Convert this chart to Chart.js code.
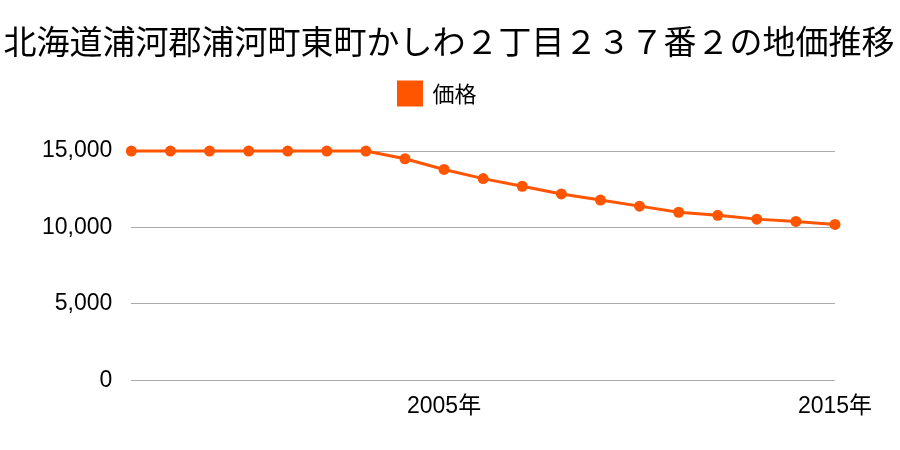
<!DOCTYPE html>
<html>
<head>
<meta charset="utf-8">
<script src="https://cdn.jsdelivr.net/npm/chart.js@4/dist/chart.umd.min.js"></script>
<style>
  html, body { margin: 0; padding: 0; background: #fff; }
  #wrap { width: 900px; height: 450px; }
</style>
</head>
<body>
<div id="wrap"><canvas id="myChart"></canvas></div>
<script>
// years on the x axis
var years = ["1997", "1998", "1999", "2000", "2001", "2002", "2003", "2004", "2005", "2006",
             "2007", "2008", "2009", "2010", "2011", "2012", "2013", "2014", "2015"];
// land price (yen / m2)
var prices = [15000, 15000, 15000, 15000, 15000, 15000, 15000, 14500, 13800, 13200,
              12700, 12200, 11800, 11400, 11000, 10800, 10550, 10400, 10200];
// years that get a tick label
var shownYears = ["2005", "2015"];

var font = "'Liberation Sans', 'Noto Sans CJK JP', sans-serif";
var cjk = "'Noto Sans CJK JP', sans-serif";
var orange = '#ff5500';

// extra room between the legend and the plot, and re-centre title / legend
var layoutTweaks = {
    id: 'layoutTweaks',
    beforeInit: function (chart) {
        var fit = chart.legend.fit;
        chart.legend.fit = function () {
            fit.bind(chart.legend)();
            this.height += 36;
        };
    },
    afterLayout: function (chart) {
        var t = chart.titleBlock;
        t.left = 0; t.right = 898;
        var l = chart.legend;
        l.left += 17;
    }
};

var ctx = document.getElementById('myChart').getContext('2d');
var chart = new Chart(ctx, {
    type: 'line',
    data: {
        labels: years,
        datasets: [{
            label: "価格",
            data: prices,
            borderColor: orange,
            backgroundColor: orange,
            borderWidth: 3,
            pointRadius: 5.5,
            pointHoverRadius: 5.5,
            pointBackgroundColor: orange,
            pointBorderWidth: 0,
            tension: 0,
            clip: false
        }]
    },
    plugins: [layoutTweaks],
    options: {
        responsive: true,
        maintainAspectRatio: false,
        animation: false,
        layout: { padding: { left: 23, right: 65, top: 22, bottom: 26 } },
        plugins: {
            title: {
                display: true,
                text: "北海道浦河郡浦河町東町かしわ２丁目２３７番２の地価推移",
                color: '#000',
                font: { family: cjk, size: 33, weight: 'normal' },
                padding: { top: 0, bottom: 10.5 }
            },
            legend: {
                labels: {
                    color: '#000',
                    font: { family: cjk, size: 22 },
                    boxWidth: 23,
                    boxHeight: 23,
                    padding: 10
                }
            },
            tooltip: { enabled: false }
        },
        scales: {
            x: {
                offset: false,
                grid: { display: false },
                border: { display: false },
                ticks: {
                    autoSkip: false,
                    maxRotation: 0,
                    color: '#000',
                    font: { family: font, size: 23 },
                    padding: 4,
                    callback: function (v, i) {
                        var y = years[i];
                        return shownYears.indexOf(y) >= 0 ? y + "年" : "";
                    }
                }
            },
            y: {
                min: 0,
                max: 15000,
                grid: { color: '#aaaaaa', drawTicks: false },
                border: { display: false },
                ticks: {
                    stepSize: 5000,
                    color: '#000',
                    padding: 19,
                    font: { family: font, size: 23 },
                    callback: function (v) { return v.toLocaleString('en-US'); }
                }
            }
        }
    }
});
</script>
</body>
</html>
